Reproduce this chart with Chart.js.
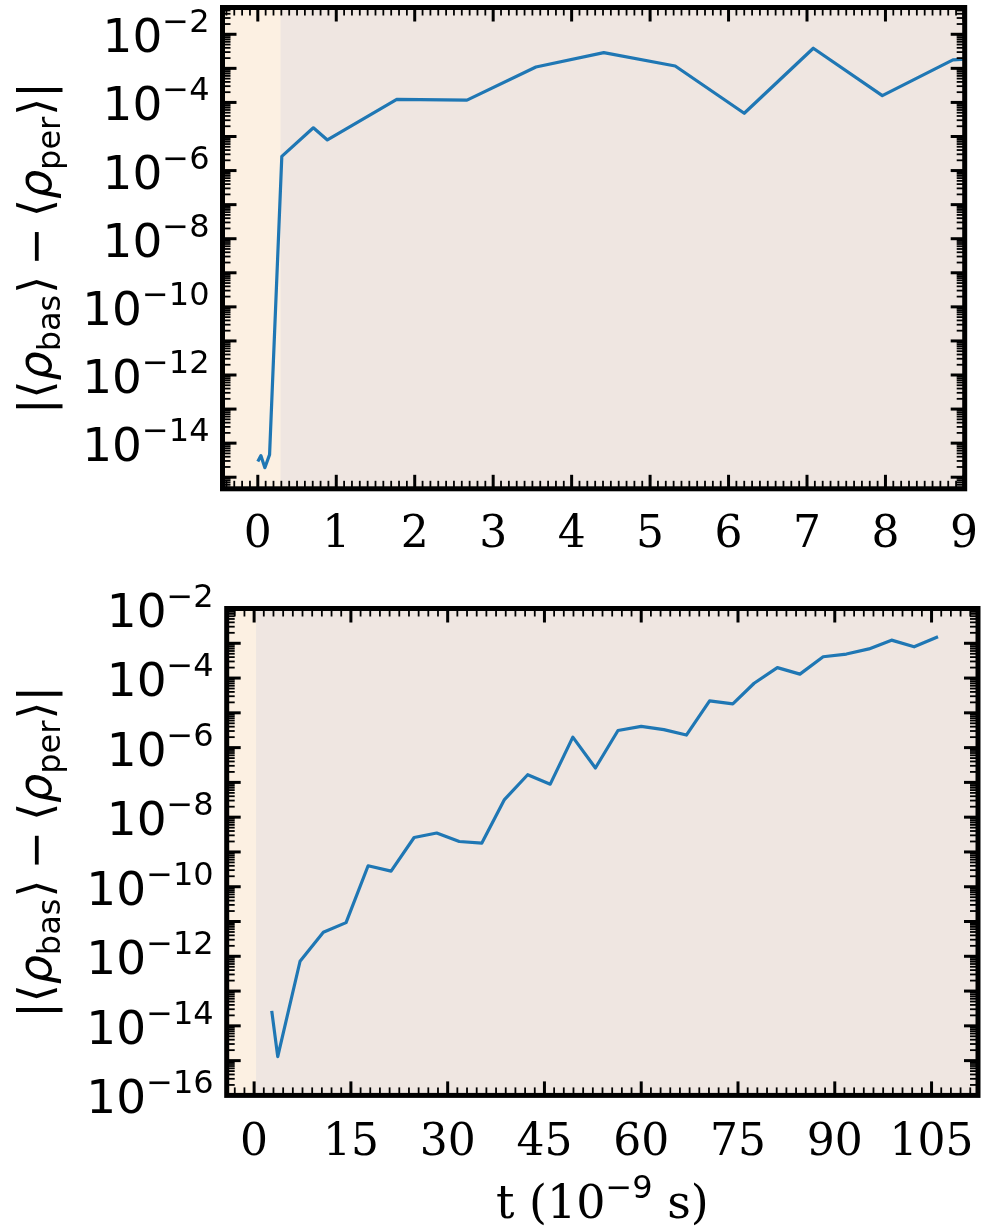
<!DOCTYPE html>
<html>
<head>
<meta charset="utf-8">
<script src="https://cdn.jsdelivr.net/npm/chart.js@4.4.0/dist/chart.umd.min.js"></script>
<style>
  html, body { margin: 0; padding: 0; background: #ffffff; }
  #wrap { position: relative; width: 982px; height: 1226px; overflow: hidden; background: #ffffff; }
  canvas { position: absolute; left: 0; }
  #early { top: 0; }
  #late { top: 560px; }
</style>
</head>
<body>
<div id="wrap">
  <canvas id="early" width="982" height="560"></canvas>
  <canvas id="late" width="982" height="666"></canvas>
</div>
<script>
// ---- early window: t in units of 1e-9 s ----
const tEarly = [0.00, 0.04, 0.09, 0.15, 0.306, 0.708, 0.887, 1.771, 2.666, 3.545, 4.41, 5.32, 6.20, 7.08, 7.96, 8.86, 9.74];
const diffEarly = [2.9e-15, 4.3e-15, 1.9e-15, 4.6e-15, 2.6e-6, 1.8e-5, 7.9e-6, 1.23e-4, 1.17e-4, 1.1e-3, 2.9e-3, 1.17e-3, 4.8e-5, 3.9e-3, 1.58e-4, 1.78e-3, 2.2e-3];

// ---- long window ----
const tLate = [2.73, 3.66, 7.12, 10.73, 14.25, 17.67, 21.23, 24.8, 28.3, 31.8, 35.3, 38.8, 42.4, 45.9, 49.4, 52.9, 56.4, 60.0, 63.5, 67.0, 70.6, 74.2, 77.5, 81.1, 84.6, 88.2, 91.8, 95.3, 98.8, 102.3, 106.0];
const diffLate = [2.7e-14, 1.3e-15, 7.2e-13, 4.9e-12, 9.3e-12, 4.0e-10, 2.8e-10, 2.6e-9, 3.5e-9, 2.0e-9, 1.8e-9, 3.2e-8, 1.66e-7, 8.9e-8, 2.0e-6, 2.6e-7, 3.1e-6, 4.1e-6, 3.3e-6, 2.3e-6, 2.2e-5, 1.8e-5, 7.1e-5, 2.0e-4, 1.3e-4, 4.1e-4, 4.9e-4, 6.9e-4, 1.23e-3, 7.9e-4, 1.55e-3];

// ---- tick labels ----
const xTicksEarly = [0, 1, 2, 3, 4, 5, 6, 7, 8, 9];
const xTicksLate = [0, 15, 30, 45, 60, 75, 90, 105];
const yExpsEarly = [-2, -4, -6, -8, -10, -12, -14];
const yExpsLate = [-2, -4, -6, -8, -10, -12, -14, -16];

const LINE = '#1f77b4';
const SHADE_LATE_PHASE = '#efe6e1';
const SHADE_START = '#fcf0e2';
const SANS = '"DejaVu Sans"';
const SERIF = '"DejaVu Serif"';
const TICK_FONT = 44;
const POW_FONT = 47;
const SUP_FONT = 32;
const TITLE_FONT = 46;
const MAJ_LEN = 14, MIN_LEN = 8;

function seg(ctx, x1, y1, x2, y2, w) {
  ctx.lineWidth = w;
  ctx.beginPath(); ctx.moveTo(x1, y1); ctx.lineTo(x2, y2); ctx.stroke();
}

// 10^e drawn as base + raised exponent, right-aligned at `right`
function drawPow(ctx, right, base, e) {
  const main = '10';
  const sup = '\u2212' + Math.abs(e);
  ctx.font = POW_FONT + 'px ' + SANS;
  const wm = ctx.measureText(main).width;
  ctx.font = SUP_FONT + 'px ' + SANS;
  const ws = ctx.measureText(sup).width;
  ctx.textAlign = 'left';
  ctx.textBaseline = 'alphabetic';
  ctx.font = POW_FONT + 'px ' + SANS;
  ctx.fillText(main, right - ws - wm, base);
  ctx.font = SUP_FONT + 'px ' + SANS;
  ctx.fillText(sup, right - ws, base - 20);
}

// |<rho_bas> - <rho_per>| set along a vertical baseline
function drawYTitle(ctx, bx, cy) {
  const mainF = TITLE_FONT + 'px ' + SANS;
  const itF = 'italic ' + TITLE_FONT + 'px ' + SANS;
  const subF = Math.round(TITLE_FONT * 0.7) + 'px ' + SANS;
  const gap = TITLE_FONT * 0.22;
  const parts = [
    { t: '|\u27E8', f: mainF, dy: 0, pad: 0 },
    { t: '\u03C1', f: itF, dy: 0, pad: 0 },
    { t: 'bas', f: subF, dy: 8.5, pad: 1 },
    { t: '\u27E9', f: mainF, dy: 0, pad: gap },
    { t: '\u2212', f: mainF, dy: 0, pad: gap },
    { t: '\u27E8', f: mainF, dy: 0, pad: 0 },
    { t: '\u03C1', f: itF, dy: 0, pad: 0 },
    { t: 'per', f: subF, dy: 8.5, pad: 1 },
    { t: '\u27E9|', f: mainF, dy: 0, pad: 0 }
  ];
  let total = 0;
  parts.forEach(p => { ctx.font = p.f; p.w = ctx.measureText(p.t).width; total += p.w + p.pad; });
  total -= parts[parts.length - 1].pad;
  ctx.save();
  ctx.translate(bx, cy);
  ctx.rotate(-Math.PI / 2);
  ctx.textAlign = 'left';
  ctx.textBaseline = 'alphabetic';
  let x = -total / 2;
  parts.forEach(p => { ctx.font = p.f; ctx.fillText(p.t, x, p.dy); x += p.w + p.pad; });
  ctx.restore();
}

function drawXTitle(ctx, cx, base) {
  const serifF = 46 + 'px ' + SERIF;
  const supF = 32 + 'px ' + SANS;
  const parts = [
    { t: 't (10', f: serifF, dy: 0 },
    { t: '\u22129', f: supF, dy: -20 },
    { t: ' s)', f: serifF, dy: 0 }
  ];
  let total = 0;
  parts.forEach(p => { ctx.font = p.f; p.w = ctx.measureText(p.t).width; total += p.w; });
  ctx.textAlign = 'left';
  ctx.textBaseline = 'alphabetic';
  let x = cx - total / 2;
  parts.forEach(p => { ctx.font = p.f; ctx.fillText(p.t, x, base + p.dy); x += p.w; });
}

function makeFrame(cfg) {
  return {
    id: 'frame',
    beforeDatasetsDraw(chart) {
      const { ctx, chartArea: a, scales: { x } } = chart;
      ctx.save();
      ctx.fillStyle = SHADE_LATE_PHASE;
      ctx.fillRect(a.left, a.top, a.right - a.left, a.bottom - a.top);
      const xe = x.getPixelForValue(cfg.shadeEnd);
      ctx.fillStyle = SHADE_START;
      ctx.fillRect(a.left, a.top, xe - a.left, a.bottom - a.top);
      ctx.restore();
    },
    afterDatasetsDraw(chart) {
      const { ctx, chartArea: a, scales: { x, y } } = chart;
      ctx.save();
      ctx.strokeStyle = '#000';
      ctx.lineCap = 'butt';
      // time ticks, inward on bottom and top
      const k0 = Math.ceil(x.min / cfg.xMinor - 1e-9);
      const k1 = Math.floor(x.max / cfg.xMinor + 1e-9);
      for (let k = k0; k <= k1; k++) {
        const px = x.getPixelForValue(k * cfg.xMinor);
        const major = k % cfg.xSub === 0;
        const L = major ? MAJ_LEN : MIN_LEN, w = major ? 3 : 1.8;
        seg(ctx, px, a.bottom, px, a.bottom - L, w);
        seg(ctx, px, a.top, px, a.top + L, w);
      }
      // log ticks, inward on left and right
      const d0 = Math.floor(Math.log10(y.min)), d1 = Math.ceil(Math.log10(y.max));
      for (let d = d0; d <= d1; d++) {
        for (let m = 1; m <= 9; m++) {
          const v = m * Math.pow(10, d);
          if (v < y.min * 0.9999 || v > y.max * 1.0001) continue;
          const py = y.getPixelForValue(v);
          const major = m === 1;
          const L = major ? MAJ_LEN : MIN_LEN, w = major ? 3 : 1.8;
          seg(ctx, a.left, py, a.left + L, py, w);
          seg(ctx, a.right, py, a.right - L, py, w);
        }
      }
      // axes frame
      ctx.lineWidth = 5;
      ctx.lineJoin = 'miter';
      ctx.strokeRect(a.left, a.top, a.right - a.left, a.bottom - a.top);

      // labels
      ctx.fillStyle = '#000';
      ctx.textBaseline = 'alphabetic';
      cfg.xTicks.forEach(v => {
        ctx.font = TICK_FONT + 'px ' + SERIF;
        ctx.textAlign = 'center';
        ctx.fillText(String(v), x.getPixelForValue(v), a.bottom + cfg.xLabelDrop);
      });
      cfg.yExps.forEach(e => {
        drawPow(ctx, a.left - 13, y.getPixelForValue(Math.pow(10, e)) + 18, e);
      });
      drawYTitle(ctx, 51, (a.top + a.bottom) / 2);
      if (cfg.xTitleBase) drawXTitle(ctx, (a.left + a.right) / 2, cfg.xTitleBase);
      ctx.restore();
    }
  };
}

function points(ts, vs) { return ts.map((t, i) => ({ x: t, y: vs[i] })); }

function build(id, ts, vs, opt) {
  return new Chart(document.getElementById(id), {
    type: 'line',
    data: {
      datasets: [{
        data: points(ts, vs),
        borderColor: LINE,
        borderWidth: 3.2,
        pointRadius: 0,
        tension: 0,
        fill: false,
        borderJoinStyle: 'round'
      }]
    },
    options: {
      responsive: false,
      animation: false,
      devicePixelRatio: 1,
      events: [],
      layout: { padding: opt.padding },
      plugins: { legend: { display: false }, tooltip: { enabled: false } },
      scales: {
        x: { type: 'linear', min: opt.xmin, max: opt.xmax, display: false },
        y: { type: 'logarithmic', min: opt.ymin, max: opt.ymax, display: false }
      }
    },
    plugins: [makeFrame(opt.frame)]
  });
}

build('early', tEarly, diffEarly, {
  padding: { left: 222.5, right: 17.3, top: 7.5, bottom: 560 - 488.8 },
  xmin: -0.45, xmax: 9.01,
  ymin: Math.pow(10, -15.34), ymax: Math.pow(10, -1.214),
  frame: { shadeEnd: 0.29, xMinor: 0.1, xSub: 10, xTicks: xTicksEarly, yExps: yExpsEarly, xLabelDrop: 58 }
});

build('late', tLate, diffLate, {
  padding: { left: 226.7, right: 4, top: 608.5 - 560, bottom: 666 - (1095.4 - 560) },
  xmin: -4.25, xmax: 112.2,
  ymin: 1e-16, ymax: 1e-2,
  frame: { shadeEnd: 0.3, xMinor: 1.5, xSub: 10, xTicks: xTicksLate, yExps: yExpsLate, xLabelDrop: 60, xTitleBase: 1218 - 560 }
});
</script>
</body>
</html>
